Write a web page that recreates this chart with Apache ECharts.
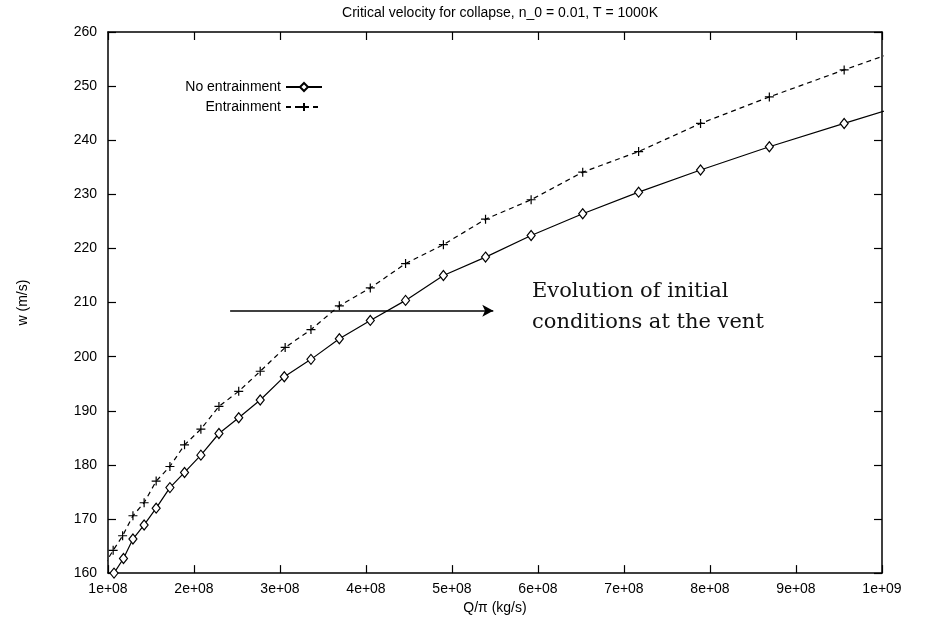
<!DOCTYPE html>
<html>
<head>
<meta charset="utf-8">
<script src="https://cdn.jsdelivr.net/npm/echarts@6/dist/echarts.min.js"></script>
<style>html,body{margin:0;padding:0;background:#fff}#c{width:926px;height:620px}</style>
</head>
<body>
<div id="c"></div>
<script>
// Data (x: Q/pi in kg/s, y: w in m/s)
const xNoEntr = [1.07e8,1.18e8,1.29e8,1.42e8,1.56e8,1.72e8,1.89e8,2.08e8,2.29e8,2.52e8,2.77e8,3.05e8,3.36e8,3.69e8,4.05e8,4.46e8,4.90e8,5.39e8,5.92e8,6.52e8,7.17e8,7.89e8,8.69e8,9.56e8,10.52e8];
const yNoEntr = [160.0,162.7,166.3,168.9,172.0,175.8,178.6,181.8,185.8,188.7,192.0,196.3,199.5,203.3,206.7,210.4,215.0,218.4,222.4,226.4,230.4,234.5,238.8,243.1,247.8];
const xEntr = [0.96e8,1.06e8,1.17e8,1.29e8,1.42e8,1.56e8,1.72e8,1.89e8,2.08e8,2.29e8,2.52e8,2.77e8,3.06e8,3.36e8,3.69e8,4.05e8,4.46e8,4.90e8,5.39e8,5.92e8,6.52e8,7.17e8,7.89e8,8.69e8,9.56e8,10.52e8];
const yEntr = [161.6,164.2,166.9,170.6,173.0,177.0,179.7,183.7,186.6,190.8,193.6,197.3,201.7,205.0,209.4,212.7,217.2,220.7,225.4,229.0,234.1,237.9,243.1,248.0,253.0,258.4];
const seriesNames = ['No entrainment', 'Entrainment'];
const arrowX = [2.42e8, 5.48e8];
const arrowY = 208.5;
const annotation = 'Evolution of initial\nconditions at the vent';
const titleText = 'Critical velocity for collapse, n_0 = 0.01, T = 1000K';

const FONT = '"Liberation Sans", Arial, Helvetica, sans-serif';
function fmtExp(v) {
  const e = Math.floor(Math.log10(v) + 1e-9);
  const m = Math.round(v / Math.pow(10, e));
  return m + 'e+' + String(e).padStart(2, '0');
}
const chart = echarts.init(document.getElementById('c'), null, {renderer: 'canvas'});
const axisLine = {show: true, lineStyle: {color: '#000', width: 1.5}};
const tick = {show: true, inside: true, length: 8, lineStyle: {color: '#000', width: 1.2}};
const grid = {left: 108, top: 32, right: 44, bottom: 46};
const plusPath = 'path://M0,5L10,5M5,0L5,10';
chart.setOption({
  animation: false,
  backgroundColor: '#fff',
  title: {text: titleText, left: 495, textAlign: 'center', top: 1,
    textStyle: {fontFamily: FONT, fontSize: 14, fontWeight: 'normal', color: '#000'}},
  grid: grid,
  legend: [
    {data: [seriesNames[0]], right: 598, top: 75, align: 'right', itemWidth: 36, itemHeight: 10,
      textStyle: {fontFamily: FONT, fontSize: 14, color: '#000'}, selectedMode: false},
    {data: [seriesNames[1]], right: 598, top: 95, align: 'right', itemWidth: 36, itemHeight: 10,
      textStyle: {fontFamily: FONT, fontSize: 14, color: '#000'}, selectedMode: false}
  ],
  xAxis: [
    {type: 'value', position: 'bottom', min: 1e8, max: 1e9, interval: 1e8,
      name: 'Q/π (kg/s)', nameLocation: 'middle', nameGap: 25,
      nameTextStyle: {fontFamily: FONT, fontSize: 14, color: '#000'},
      axisLine: axisLine, axisTick: tick, splitLine: {show: false},
      axisLabel: {formatter: fmtExp, fontFamily: FONT, fontSize: 14, color: '#000', margin: 9}},
    {type: 'value', position: 'top', min: 1e8, max: 1e9, interval: 1e8,
      axisLine: axisLine, axisTick: tick, splitLine: {show: false}, axisLabel: {show: false}}
  ],
  yAxis: [
    {type: 'value', position: 'left', min: 160, max: 260, interval: 10,
      name: 'w (m/s)', nameLocation: 'middle', nameGap: 78, nameRotate: 90,
      nameTextStyle: {fontFamily: FONT, fontSize: 14, color: '#000'},
      axisLine: axisLine, axisTick: tick, splitLine: {show: false},
      axisLabel: {fontFamily: FONT, fontSize: 14, color: '#000', margin: 11}},
    {type: 'value', position: 'right', min: 160, max: 260, interval: 10,
      axisLine: axisLine, axisTick: tick, splitLine: {show: false}, axisLabel: {show: false}}
  ],
  graphic: [{
    type: 'text', left: 532, top: 276,
    style: {text: annotation, font: '21px "DejaVu Serif", "Liberation Serif", serif', fill: '#111', lineHeight: 31}
  }],
  series: [
    {name: seriesNames[0], type: 'line', clip: true,
      data: xNoEntr.map((x, i) => [x, yNoEntr[i]]),
      symbol: 'diamond', symbolSize: [8, 10], showAllSymbol: true,
      itemStyle: {color: '#fff', borderColor: '#000', borderWidth: 1.2},
      lineStyle: {color: '#000', width: 1.2, type: 'solid'},
      markLine: {silent: true, symbol: ['none', 'arrow'], symbolSize: [9, 11], animation: false,
        label: {show: false}, lineStyle: {color: '#000', width: 1.5, type: 'solid'},
        data: [[{coord: [arrowX[0], arrowY]}, {coord: [arrowX[1], arrowY]}]]}
    },
    {name: seriesNames[1], type: 'line', clip: true,
      data: xEntr.map((x, i) => [x, yEntr[i]]),
      symbol: plusPath, symbolSize: 9, showAllSymbol: true,
      itemStyle: {color: 'none', borderColor: '#000', borderWidth: 1.2},
      lineStyle: {color: '#000', width: 1.2, type: [5, 4]}
    }
  ]
});
</script>
</body>
</html>
